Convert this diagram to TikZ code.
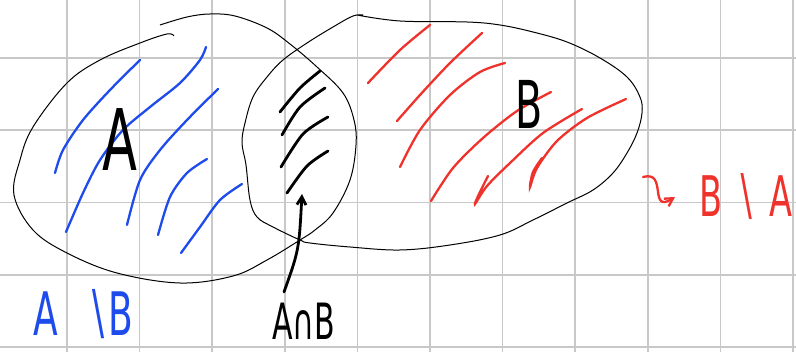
\documentclass[tikz,border=0pt]{standalone}
\usepackage{fontspec}
\newfontfamily\handfont[FakeStretch=0.6]{DejaVu Sans}
\usetikzlibrary{arrows.meta}
\definecolor{gridgray}{RGB}{200,200,200}
\definecolor{setblue}{RGB}{30,75,235}
\definecolor{setred}{RGB}{240,50,45}

\begin{document}
\begin{tikzpicture}[x=1pt, y=-1pt, >={Straight Barb[length=8pt,width=9pt]},
    outline/.style={black, line width=1pt},
    hatch/.style={line width=2.3pt, line cap=round},
    lbl/.style={inner sep=0pt}]
  % --- paper and grid ---
  \useasboundingbox (0,0) rectangle (796,352);
  \fill[white] (0,0) rectangle (796,352);
  \foreach \i in {0,...,10}
    \draw[gridgray, line width=1.6pt] ({67+72.6*\i},0) -- ({67+72.6*\i},352);
  \foreach \j in {0,...,4}
    \draw[gridgray, line width=1.6pt] (0,{58+72.3*\j}) -- (796,{58+72.3*\j});
  % --- set A: hand drawn loop ---
  \draw[outline] plot [smooth, tension=0.6] coordinates
    {(160,25) (187,17) (210,14) (235,16) (267,28) (290,44) (317,67) (343,93)
     (354,120) (356,145) (350,180) (333,213) (315,230) (300,240) (267,260)
     (233,276) (180,283) (117,273) (67,253) (33,230) (14,195) (20,160)
     (33,127) (67,83) (100,60) (140,43) (167,34) (174,36)};
  % --- set B: hand drawn loop ---
  \draw[outline] plot [smooth, tension=0.6] coordinates
    {(357,15) (400,21) (467,22) (500,25) (533,32) (567,42) (600,58) (627,77)
     (640,97) (642,113) (637,133) (627,153) (613,173) (593,190) (567,203)
     (533,220) (500,235) (450,245) (400,250) (350,247) (310,243) (300,240)
     (273,227) (257,217) (250,200) (246,165) (242,143) (245,123) (253,97)
     (267,77) (283,60) (307,43) (333,27) (353,16) (363,15)};
  % --- blue hatching: A minus B ---
  \draw[setblue, hatch] plot [smooth] coordinates
    {(140,60) (110,90) (83,120) (63,150) (55,173)};
  \draw[setblue, hatch] plot [smooth] coordinates
    {(206,47) (200,60) (180,83) (150,107) (123,130) (100,160) (83,193) (66,232)};
  \draw[setblue, hatch] plot [smooth] coordinates
    {(218,89) (187,120) (160,150) (140,180) (127,225)};
  \draw[setblue, hatch] plot [smooth] coordinates
    {(207,159) (187,173) (170,197) (158,235)};
  \draw[setblue, hatch] plot [smooth] coordinates
    {(242,184) (220,200) (200,227) (181,253)};
  % --- black hatching: A cap B ---
  \draw[black, hatch, line width=2.8pt] plot [smooth] coordinates {(320,71) (300,88) (280,112)};
  \draw[black, hatch, line width=2.8pt] plot [smooth] coordinates {(325,88) (300,107) (282,135)};
  \draw[black, hatch, line width=2.8pt] plot [smooth] coordinates {(328,117) (303,134) (281,167)};
  \draw[black, hatch, line width=2.8pt] plot [smooth] coordinates {(328,151) (307,166) (287,193)};
  % --- red hatching: B minus A ---
  \draw[setred, hatch] plot [smooth] coordinates {(430,25) (400,50) (368,83)};
  \draw[setred, hatch] plot [smooth] coordinates
    {(482,33) (450,63) (420,95) (397,121)};
  \draw[setred, hatch] plot [smooth] coordinates
    {(505,63) (480,72) (450,95) (420,130) (400,167)};
  \draw[setred, hatch] plot [smooth] coordinates
    {(551,92) (517,111) (483,138) (453,168) (431,201)};
  \draw[setred, hatch] plot [smooth, tension=0.5] coordinates
    {(582,109) (543,133) (510,163) (487,186) (475,204) (479,194) (488,176)};
  \draw[setred, hatch] plot [smooth, tension=0.5] coordinates
    {(626,99) (587,118) (557,141) (537,168) (530,187) (533,172) (542,158)};
  % --- set names ---
  \node[lbl, font=\handfont\fontsize{85}{90}\selectfont] (nameA) at (120,140) {A};
  \node[lbl, font=\handfont\fontsize{66}{70}\selectfont] (nameB) at (529,104) {B};
  % --- labels ---
  \node[lbl, setblue, anchor=base west, font=\handfont\fontsize{60}{64}\selectfont]
    (diffAB) at (33,336) {A\hspace{28pt}∖B};
  \node[lbl, black, anchor=base west, font=\handfont\fontsize{50}{54}\selectfont]
    (capLabel) at (272,340) {A∩B};
  \node[lbl, setred, anchor=base west, font=\handfont\fontsize{56}{60}\selectfont]
    (diffBA) at (699,217) {B\hspace{12pt}∖\hspace{14pt}A};
  % --- squiggle arrow to B minus A ---
  \coordinate (squigTail) at (643,177);
  \draw[->, setred, hatch] (squigTail) .. controls (668,170) and (648,214) .. ([xshift=-24pt]diffBA.west);
  % --- arrow to the lens ---
  \coordinate (capTail) at (284,292);
  \coordinate (capTip) at (302,194);
  \draw[->, black, hatch, line width=2.8pt] (capTail) .. controls (299,250) .. (capTip);
\end{tikzpicture}
\end{document}
